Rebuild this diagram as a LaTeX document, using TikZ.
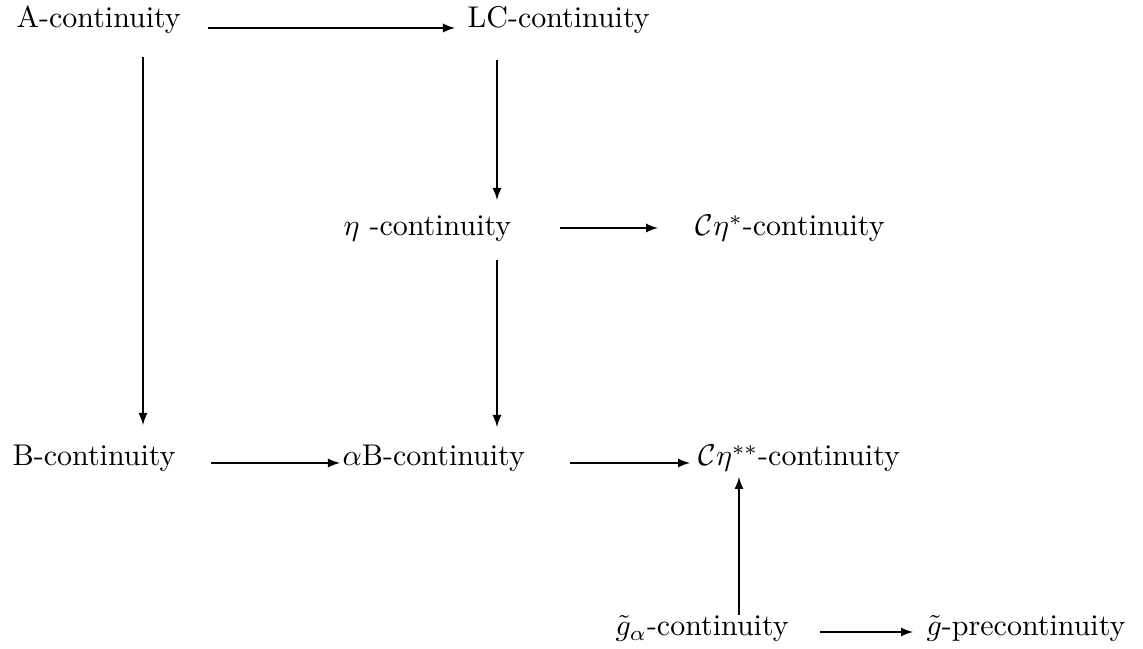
\documentclass[tikz,border=0pt]{standalone}
\usetikzlibrary{calc}
\begin{document}
\begin{tikzpicture}[x=0.3333pt,y=-0.3333pt,
  lbl/.style={inner sep=0pt,anchor=base west},
  arr/.style={-latex,line width=0.4pt}]
\useasboundingbox (0,0) rectangle (1143,649);
\node[lbl] (A) at (16,27.5) {A-continuity};
\node[lbl] (LC) at (467,27.5) {LC-continuity};
\node[lbl] (eta) at (343,236) {$\eta$ -continuity};
\node[lbl] (Ce) at (695,236) {$\mathcal{C}\eta^{*}$-continuity};
\node[lbl] (B) at (12,466) {B-continuity};
\node[lbl] (aB) at (342,466) {$\alpha$B-continuity};
\node[lbl] (Cee) at (698,466) {$\mathcal{C}\eta^{**}$-continuity};
\node[lbl] (ga) at (615,636) {$\tilde{g}_{\alpha}$-continuity};
\node[lbl] (gp) at (926,636) {$\tilde{g}$-precontinuity};
% connectors
\draw[arr] ($(A.base west)+(192,0.5)$) -- ($(LC.base west)+(-12,0.5)$);
\draw[arr] ($(A.base west)+(127,29.5)$) -- ($(B.base west)+(131,-41)$);
\draw[arr] ($(LC.base west)+(30,32.5)$) -- ($(eta.base west)+(154,-36)$);
\draw[arr] ($(eta.base west)+(217,-8)$) -- ($(Ce.base west)+(-37,-8)$);
\draw[arr] ($(eta.base west)+(154,24)$) -- ($(aB.base west)+(155,-39)$);
\draw[arr] ($(B.base west)+(199,-3)$) -- ($(aB.base west)+(-2,-3)$);
\draw[arr] ($(aB.base west)+(228,-3)$) -- ($(Cee.base west)+(-8,-3)$);
\draw[arr] ($(ga.base west)+(124,-21)$) -- ($(Cee.base west)+(41,11)$);
\draw[arr] ($(ga.base west)+(205,-4)$) -- ($(gp.base west)+(-13,-4)$);
\end{tikzpicture}
\end{document}
